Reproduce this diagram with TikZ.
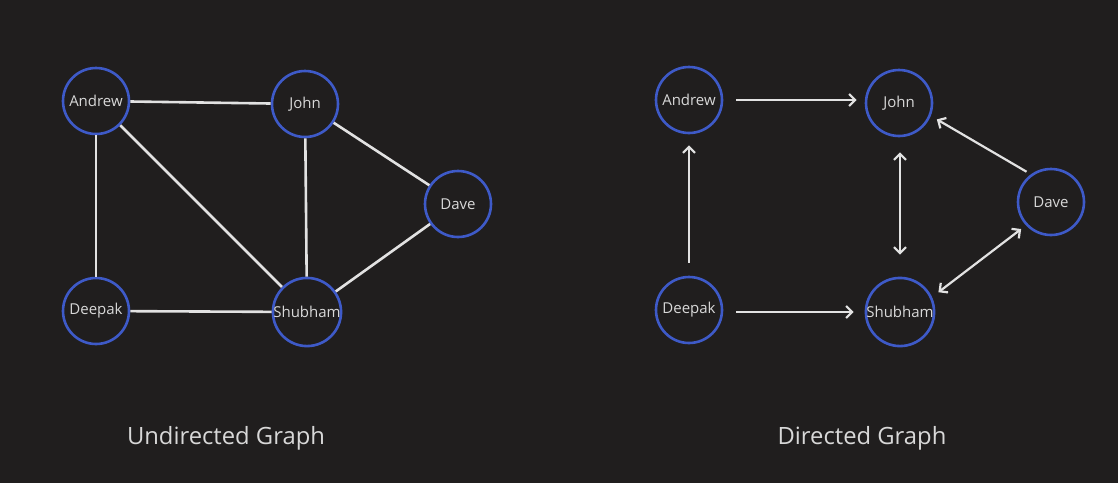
\documentclass[tikz,border=0pt]{standalone}
\usepackage{fontspec}
\setmainfont{Open Sans}
\usetikzlibrary{arrows.meta}
\definecolor{bg}{HTML}{201E1E}
\definecolor{ring}{HTML}{3E5AC8}
\definecolor{ink}{HTML}{D8D8D8}
\definecolor{edge}{HTML}{E2E2E2}
\tikzset{
  vnode/.style={circle, draw=ring, line width=2.6pt, fill=bg, minimum size=66pt, inner sep=0pt, text=ink, font=\fontsize{15}{17}\selectfont},
  uedge/.style={draw=edge, line width=2.6pt},
  dedge/.style={draw=edge, line width=2.2pt, -{Straight Barb[length=6pt,width=12pt]}},
  bedge/.style={draw=edge, line width=2.2pt, {Straight Barb[length=6pt,width=12pt]}-{Straight Barb[length=6pt,width=12pt]}},
  caption/.style={text=ink, font=\fontsize{23.8}{27}\selectfont}
}
\begin{document}
\begin{tikzpicture}[x=1pt,y=-1pt]
\fill[bg] (0,0) rectangle (1118,483);
\useasboundingbox (0,0) rectangle (1118,483);
% Undirected
\node[vnode] (uA) at (96,101) {Andrew};
\node[vnode] (uJ) at (305,104) {John};
\node[vnode] (uV) at (458,204) {Dave};
\node[vnode] (uD) at (96,311) {Deepak};
\node[vnode] (uS) at (307,312) {Shubham};
\draw[uedge] (uA) -- (uJ);
\draw[uedge] (uA) -- (uD);
\draw[uedge] (uA) -- (uS);
\draw[uedge] (uJ) -- (uS);
\draw[uedge] (uJ) -- (uV);
\draw[uedge] (uS) -- (uV);
\draw[uedge] (uD) -- (uS);
\node[caption] (ucap) at (226,438) {Undirected Graph};
% Directed
\node[vnode] (dA) at (689,100) {Andrew};
\node[vnode] (dJ) at (899,103) {John};
\node[vnode] (dV) at (1051,202) {Dave};
\node[vnode] (dD) at (689,310) {Deepak};
\node[vnode] (dS) at (900,312) {Shubham};
\draw[dedge, shorten <=13pt, shorten >=8pt] (dA.east) -- (dJ.west |- dA.east);
\draw[dedge, shorten <=13pt, shorten >=11pt] (dD.north) -- (dA.south);
\draw[bedge, shorten <=15pt, shorten >=22pt] (dS.north |- dJ.south) -- (dS.north);
\draw[dedge, shorten <=5pt, shorten >=7pt] (dV.126) -- (dJ.-22);
\draw[dedge, shorten <=13pt, shorten >=11pt] (dD.east |- dS.west) -- (dS.west);
\draw[bedge, shorten <=8pt, shorten >=6pt] (dS.25) -- (dV.223);
\node[caption] (dcap) at (862,438) {Directed Graph};
\end{tikzpicture}
\end{document}
